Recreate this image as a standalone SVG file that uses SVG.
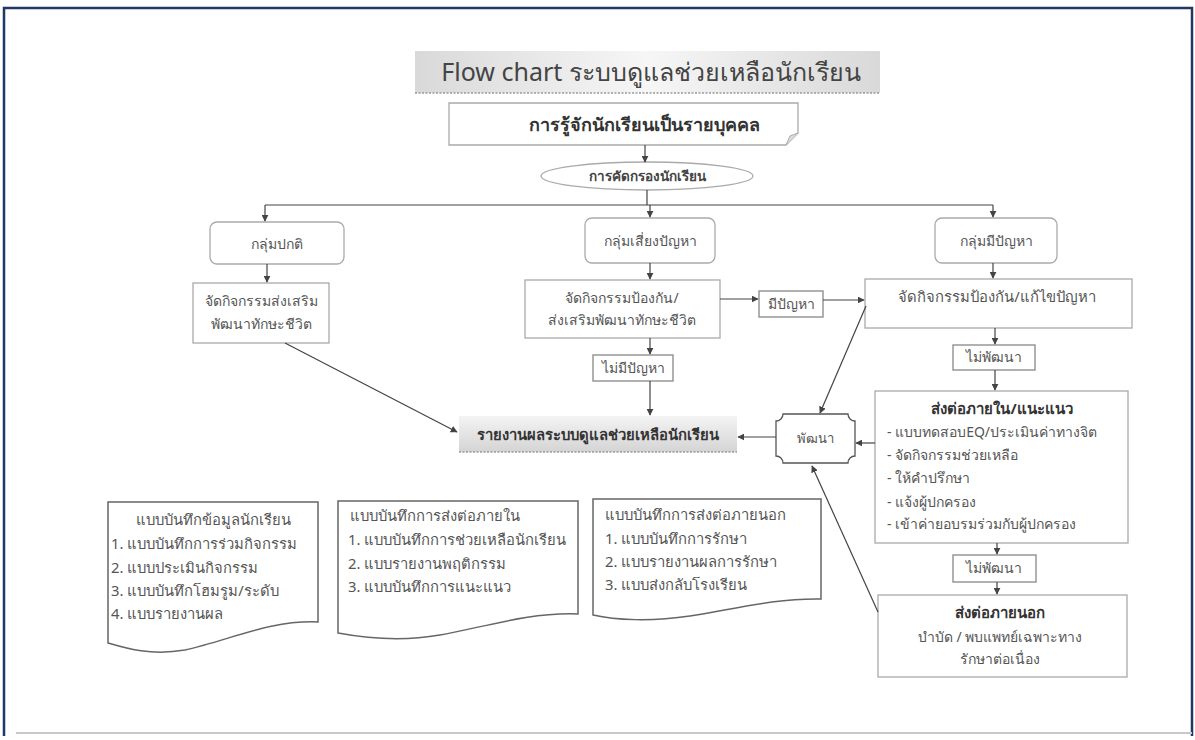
<svg xmlns="http://www.w3.org/2000/svg" width="1195" height="740" viewBox="0 0 1195 740">
<defs>
<marker id="ah" viewBox="0 0 10 10" refX="9" refY="5" markerWidth="7" markerHeight="7" markerUnits="userSpaceOnUse" orient="auto"><path d="M0,0 L10,5 L0,10 Z" fill="#444"/></marker>
<linearGradient id="gt" x1="0" y1="0" x2="1" y2="0"><stop offset="0" stop-color="#d9d9d9"/><stop offset="0.5" stop-color="#f6f6f6"/><stop offset="1" stop-color="#d9d9d9"/></linearGradient>
<linearGradient id="gr" x1="0" y1="0" x2="0" y2="1"><stop offset="0" stop-color="#f4f4f4"/><stop offset="1" stop-color="#d4d4d4"/></linearGradient>
</defs>
<style>
text{font-family:"Noto Sans","DejaVu Sans","Liberation Sans",sans-serif;fill:#555;}
.c{text-anchor:middle;}
.b{font-weight:bold;fill:#333;}
.box{fill:#fff;stroke:#aaa;stroke-width:1.3;}
.doc{fill:#fff;stroke:#666;stroke-width:1.5;}
.ln{fill:none;stroke:#444;stroke-width:1.2;}
.ar{fill:none;stroke:#444;stroke-width:1.2;marker-end:url(#ah);}
.t15{font-size:14.8px;}
.t14{font-size:14px;}
</style>
<rect x="0" y="0" width="1195" height="740" fill="#fff"/>
<path d="M4,736 V8 H1192 V736" fill="none" stroke="#1f3864" stroke-width="2.5"/>
<line x1="16" y1="733" x2="1192" y2="733" stroke="#c8c8c8" stroke-width="2"/>

<g id="title">
<rect x="415" y="51" width="465" height="42" fill="url(#gt)"/>
<line x1="415" y1="93" x2="880" y2="93" stroke="#999" stroke-width="1.5" stroke-dasharray="2,1.5"/>
<text x="651" y="81" class="c" style="font-size:25px;fill:#444">Flow chart ระบบดูแลช่วยเหลือนักเรียน</text>
</g>

<g id="n_know">
<path d="M449,103 H798 V133 L786,145 H449 Z" class="box"/>
<path d="M786,145 L790,136 L798,133" fill="#ddd" stroke="#aaa" stroke-width="1"/>
<text x="644" y="131" class="c b" style="font-size:18px">การรู้จักนักเรียนเป็นรายบุคคล</text>
</g>

<g id="n_screen">
<ellipse cx="647" cy="176" rx="106" ry="14" class="box"/>
<text x="647" y="181" class="c b" style="font-size:13.5px;fill:#444">การคัดกรองนักเรียน</text>
</g>

<g id="n_normal">
<rect x="210" y="222" width="134" height="42" rx="7" class="box"/>
<text x="277" y="249" class="c t14">กลุ่มปกติ</text>
</g>
<g id="n_risk">
<rect x="585" y="218" width="130" height="45" rx="7" class="box"/>
<text x="650" y="246" class="c t14">กลุ่มเสี่ยงปัญหา</text>
</g>
<g id="n_problem">
<rect x="935" y="218" width="122" height="45" rx="7" class="box"/>
<text x="996" y="246" class="c t14">กลุ่มมีปัญหา</text>
</g>

<g id="n_promote">
<rect x="193" y="283" width="136" height="60" class="box"/>
<text x="261" y="306" class="c t14">จัดกิจกรรมส่งเสริม</text>
<text x="261" y="329" class="c t14">พัฒนาทักษะชีวิต</text>
</g>
<g id="n_prevent">
<rect x="525" y="280" width="195" height="58" class="box"/>
<text x="622" y="303" class="c t14">จัดกิจกรรมป้องกัน/</text>
<text x="622" y="325" class="c t14">ส่งเสริมพัฒนาทักษะชีวิต</text>
</g>
<g id="n_hasproblem">
<rect x="759" y="291" width="64" height="26" class="box" style="stroke:#888"/>
<text x="791" y="309" class="c t14">มีปัญหา</text>
</g>
<g id="n_solve">
<rect x="865" y="279" width="267" height="49" class="box"/>
<text x="997" y="302" class="c" style="font-size:14.8px">จัดกิจกรรมป้องกัน/แก้ไขปัญหา</text>
</g>
<g id="n_noproblem">
<rect x="593" y="355" width="80" height="26" class="box" style="stroke:#888"/>
<text x="633" y="373" class="c t14">ไม่มีปัญหา</text>
</g>
<g id="n_nodev1">
<rect x="953" y="345" width="82" height="25" class="box" style="stroke:#888"/>
<text x="994" y="362" class="c t14">ไม่พัฒนา</text>
</g>

<g id="n_report">
<rect x="459" y="416" width="278" height="36" fill="url(#gr)"/>
<line x1="459" y1="452" x2="737" y2="452" stroke="#999" stroke-width="1.5" stroke-dasharray="2,1.5"/>
<text x="598" y="440" class="c b" style="font-size:14.8px">รายงานผลระบบดูแลช่วยเหลือนักเรียน</text>
</g>

<g id="n_develop">
<path d="M783,414 H848 A7,7 0 0 0 855,421 V456 A7,7 0 0 0 848,463 H783 A7,7 0 0 0 776,456 V421 A7,7 0 0 0 783,414 Z" fill="#fff" stroke="#555" stroke-width="1.3"/>
<text x="815" y="443" class="c" style="font-size:13px">พัฒนา</text>
</g>

<g id="n_internal">
<rect x="875" y="391" width="253" height="152" class="box"/>
<text x="1002" y="414" class="c b" style="font-size:15px">ส่งต่อภายใน/แนะแนว</text>
<text x="887" y="437" class="t14">- แบบทดสอบEQ/ประเมินค่าทางจิต</text>
<text x="887" y="460" class="t14">- จัดกิจกรรมช่วยเหลือ</text>
<text x="887" y="483" class="t14">- ให้คำปรึกษา</text>
<text x="887" y="507" class="t14">- แจ้งผู้ปกครอง</text>
<text x="887" y="529" class="t14">- เข้าค่ายอบรมร่วมกับผู้ปกครอง</text>
</g>
<g id="n_nodev2">
<rect x="953" y="555" width="83" height="27" class="box" style="stroke:#888"/>
<text x="994" y="573" class="c t14">ไม่พัฒนา</text>
</g>
<g id="n_external">
<rect x="878" y="595" width="249" height="82" class="box"/>
<text x="1000" y="618" class="c b" style="font-size:15px">ส่งต่อภายนอก</text>
<text x="1000" y="642" class="c t14">บำบัด / พบแพทย์เฉพาะทาง</text>
<text x="1000" y="664" class="c t14">รักษาต่อเนื่อง</text>
</g>

<g id="doc1">
<path d="M108,502 H318 V622 C270,620 230,640 185,650 C150,656 125,648 108,643 Z" class="doc"/>
<text x="213" y="525" class="c t15">แบบบันทึกข้อมูลนักเรียน</text>
<text x="111" y="549" class="t15">1. แบบบันทึกการร่วมกิจกรรม</text>
<text x="111" y="573" class="t15">2. แบบประเมินกิจกรรม</text>
<text x="111" y="596" class="t15">3. แบบบันทึกโฮมรูม/ระดับ</text>
<text x="111" y="619" class="t15">4. แบบรายงานผล</text>
</g>
<g id="doc2">
<path d="M338,501 H578 V614 C530,612 480,628 440,635 C400,642 365,638 338,633 Z" class="doc"/>
<text x="350" y="521" class="t15">แบบบันทึกการส่งต่อภายใน</text>
<text x="348" y="545" class="t15">1. แบบบันทึกการช่วยเหลือนักเรียน</text>
<text x="348" y="569" class="t15">2. แบบรายงานพฤติกรรม</text>
<text x="348" y="592" class="t15">3. แบบบันทึกการแนะแนว</text>
</g>
<g id="doc3">
<path d="M593,499 H821 V599 C775,598 730,610 690,616 C650,622 615,620 593,615 Z" class="doc"/>
<text x="605" y="520" class="t15">แบบบันทึกการส่งต่อภายนอก</text>
<text x="605" y="544" class="t15">1. แบบบันทึกการรักษา</text>
<text x="605" y="567" class="t15">2. แบบรายงานผลการรักษา</text>
<text x="605" y="590" class="t15">3. แบบส่งกลับโรงเรียน</text>
</g>

<g id="connectors">
<line x1="645" y1="145" x2="645" y2="162" class="ar"/>
<line x1="647" y1="190" x2="647" y2="205" class="ln"/>
<line x1="265" y1="205" x2="993" y2="205" class="ln"/>
<line x1="265" y1="205" x2="265" y2="221" class="ar"/>
<line x1="650" y1="205" x2="650" y2="217" class="ar"/>
<line x1="993" y1="205" x2="993" y2="217" class="ar"/>
<line x1="267" y1="264" x2="267" y2="282" class="ar"/>
<line x1="650" y1="263" x2="650" y2="279" class="ar"/>
<line x1="993" y1="263" x2="993" y2="278" class="ar"/>
<line x1="720" y1="299" x2="758" y2="299" class="ar"/>
<line x1="823" y1="300" x2="864" y2="300" class="ar"/>
<line x1="650" y1="338" x2="650" y2="354" class="ar"/>
<line x1="650" y1="381" x2="650" y2="415" class="ar"/>
<line x1="285" y1="343" x2="457" y2="432" class="ar"/>
<line x1="776" y1="437" x2="738" y2="437" class="ar"/>
<line x1="866" y1="306" x2="820" y2="413" class="ar"/>
<line x1="875" y1="443" x2="856" y2="443" class="ar"/>
<line x1="878" y1="612" x2="812" y2="466" class="ar"/>
<line x1="995" y1="328" x2="995" y2="344" class="ar"/>
<line x1="995" y1="370" x2="995" y2="390" class="ar"/>
<line x1="997" y1="543" x2="997" y2="554" class="ar"/>
<line x1="997" y1="582" x2="997" y2="594" class="ar"/>
</g>
</svg>
